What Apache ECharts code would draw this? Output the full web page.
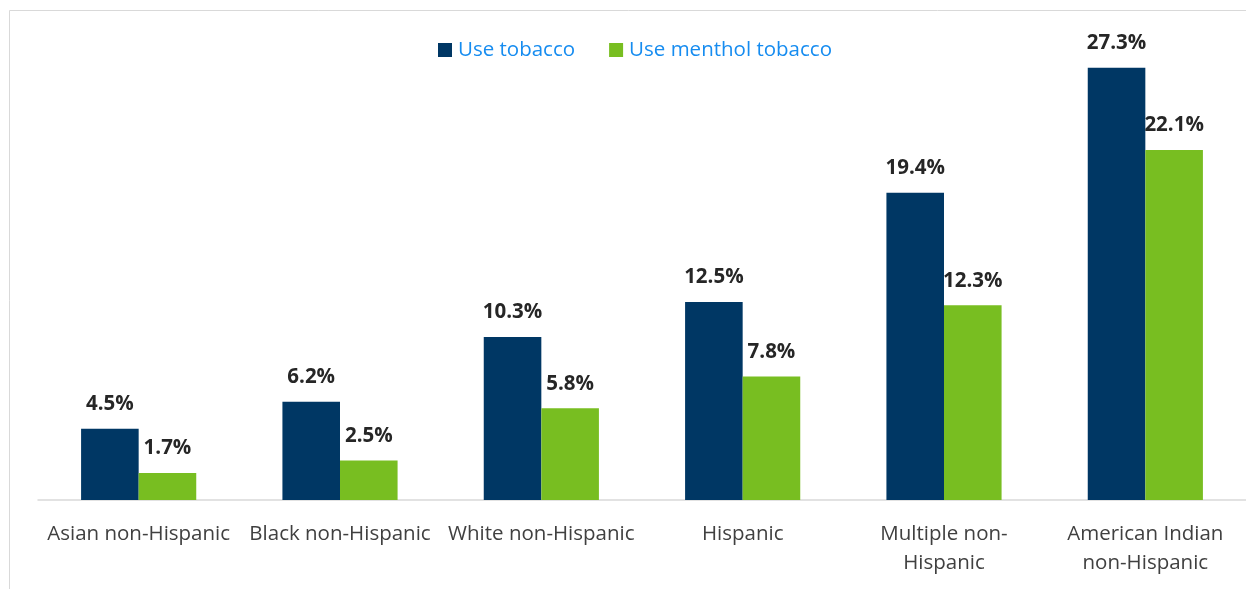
<!DOCTYPE html>
<html>
<head>
<meta charset="utf-8">
<style>
  html, body { margin: 0; padding: 0; background: #fff; }
  #chart { width: 1246px; height: 589px; }
</style>
<script src="https://cdn.jsdelivr.net/npm/echarts@6/dist/echarts.min.js"></script>
</head>
<body>
<div id="chart"></div>
<script>
// Groups shown along the category axis
const categories = [
  'Asian non-Hispanic',
  'Black non-Hispanic',
  'White non-Hispanic',
  'Hispanic',
  'Multiple non-\nHispanic',
  'American Indian\nnon-Hispanic'
];
// Percent of each group using tobacco / menthol tobacco
const useTobacco = [4.5, 6.2, 10.3, 12.5, 19.4, 27.3];
const useMenthol = [1.7, 2.5, 5.8, 7.8, 12.3, 22.1];
const seriesNames = ['Use tobacco', 'Use menthol tobacco'];

const FONT = '"Open Sans", "Noto Sans", sans-serif';
const chart = echarts.init(document.getElementById('chart'), null, { renderer: 'canvas' });

const valueLabel = {
  show: true,
  position: 'top',
  distance: 14,
  formatter: p => p.value.toFixed(1) + '%',
  fontFamily: FONT,
  fontWeight: 'bold',
  fontSize: 20.5,
  color: '#262626'
};

chart.setOption({
  animation: false,
  backgroundColor: '#ffffff',
  graphic: [{
    type: 'rect',
    shape: { x: 9.5, y: 10.5, width: 1400, height: 800 },
    style: { fill: 'none', stroke: '#d9d9d9', lineWidth: 1 },
    silent: true
  }],
  legend: {
    data: seriesNames,
    top: 39.5,
    left: 438,
    padding: 0,
    itemWidth: 14,
    itemHeight: 14,
    itemGap: 34,
    icon: 'rect',
    textStyle: { fontFamily: FONT, fontSize: 20.5, color: '#168cf0', padding: [0, 0, 0, 1] }
  },
  grid: { left: 38, right: 0, top: 25, bottom: 89, containLabel: false },
  xAxis: {
    type: 'category',
    data: categories,
    axisLine: { show: true, lineStyle: { color: '#d9d9d9', width: 1.5 } },
    axisTick: { show: false },
    axisLabel: {
      interval: 0,
      margin: 20,
      fontFamily: FONT,
      fontSize: 20.5,
      lineHeight: 29,
      color: '#404040'
    }
  },
  yAxis: {
    type: 'value',
    min: 0,
    max: 30,
    show: false,
    splitLine: { show: false }
  },
  series: [
    {
      name: seriesNames[0],
      type: 'bar',
      data: useTobacco,
      barWidth: '28.6%',
      barGap: '0%',
      itemStyle: { color: '#003764' },
      label: valueLabel
    },
    {
      name: seriesNames[1],
      type: 'bar',
      data: useMenthol,
      barWidth: '28.6%',
      itemStyle: { color: '#78be21' },
      label: valueLabel
    }
  ]
});
</script>
</body>
</html>
